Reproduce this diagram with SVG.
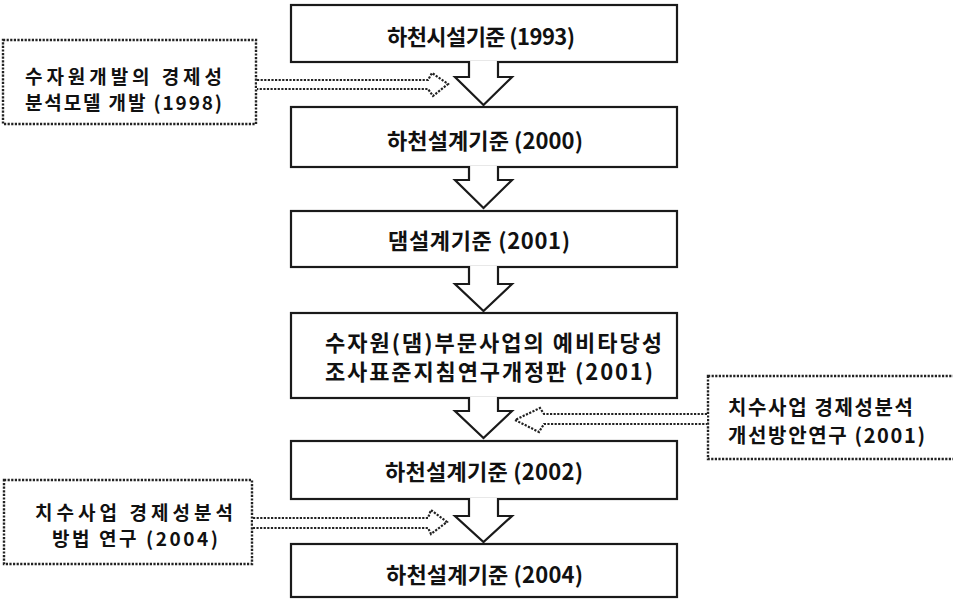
<svg xmlns="http://www.w3.org/2000/svg" width="953" height="599" viewBox="0 0 953 599">
<style>
.box{fill:#fff;stroke:#1a1a1a;stroke-width:2.2}
.dbox{fill:#fff;stroke:#222;stroke-width:2.4;stroke-dasharray:2.2 1.4}
.blk{fill:#fff;stroke:#1a1a1a;stroke-width:2.2;stroke-linejoin:miter}
.dar{fill:#fff;stroke:#222;stroke-width:2.2;stroke-dasharray:2.2 1.4}
text{font-family:"Noto Sans CJK KR","Noto Sans CJK SC",sans-serif;fill:#111;font-size:22px;font-weight:600}
.s{font-size:19px}
.r{font-size:20px}
</style>
<rect width="953" height="599" fill="#fff"/>
<g id="n1"><rect class="box" x="291" y="5" width="386" height="57"/><text x="387" y="45" textLength="188">하천시설기준 (1993)</text></g>
<g id="n2"><rect class="box" x="291" y="107" width="386" height="60"/><text x="387" y="149" textLength="196">하천설계기준 (2000)</text></g>
<g id="n3"><rect class="box" x="291" y="211" width="386" height="56"/><text x="388" y="249" textLength="182">댐설계기준 (2001)</text></g>
<g id="n4"><rect class="box" x="291" y="313" width="386" height="85"/><text x="325" y="351" textLength="337">수자원(댐)부문사업의 예비타당성</text><text x="325" y="380" textLength="328">조사표준지침연구개정판 (2001)</text></g>
<g id="n5"><rect class="box" x="291" y="441" width="386" height="58"/><text x="385" y="480" textLength="198">하천설계기준 (2002)</text></g>
<g id="n6"><rect class="box" x="291" y="544" width="386" height="53"/><text x="386" y="583" textLength="197">하천설계기준 (2004)</text></g>
<g id="a1"><rect class="dbox" x="3" y="40" width="253" height="84"/><text class="s" x="25" y="84" textLength="197">수자원개발의 경제성</text><text class="s" x="25" y="110" textLength="197">분석모델 개발 (1998)</text></g>
<g id="a2"><rect class="dbox" x="708" y="376" width="260" height="83"/><text class="r" x="728" y="415" textLength="185">치수사업 경제성분석</text><text class="r" x="728" y="443" textLength="197">개선방안연구 (2001)</text></g>
<g id="a3"><rect class="dbox" x="4" y="480" width="248" height="84"/><text class="s" x="35" y="520" textLength="198">치수사업 경제성분석</text><text class="s" x="52" y="546" textLength="166">방법 연구 (2004)</text></g>
<g id="connectors">
<path class="blk" d="M469,61 V77 H455 L483.5,105 L512,77 H498 V61"/>
<path class="blk" d="M469,166 V180 H455 L483.5,208 L512,180 H498 V166"/>
<path class="blk" d="M469,266 V284 H455 L483.5,311 L512,284 H498 V266"/>
<path class="blk" d="M469,397 V411 H455 L483.5,438 L512,411 H498 V397"/>
<path class="blk" d="M469,498 V516 H455 L483.5,542 L512,516 H498 V498"/>
<path class="dar" d="M257,80 H428 L432,73 L448,84 L433,96 L428,89 H257"/>
<path class="dar" d="M707,414 H544 L540,408 L515,420 L539,432 L544,424 H707"/>
<path class="dar" d="M253,518 H428 L431,510 L447,522 L431,534 L428,528 H253"/>
</g>
</svg>
